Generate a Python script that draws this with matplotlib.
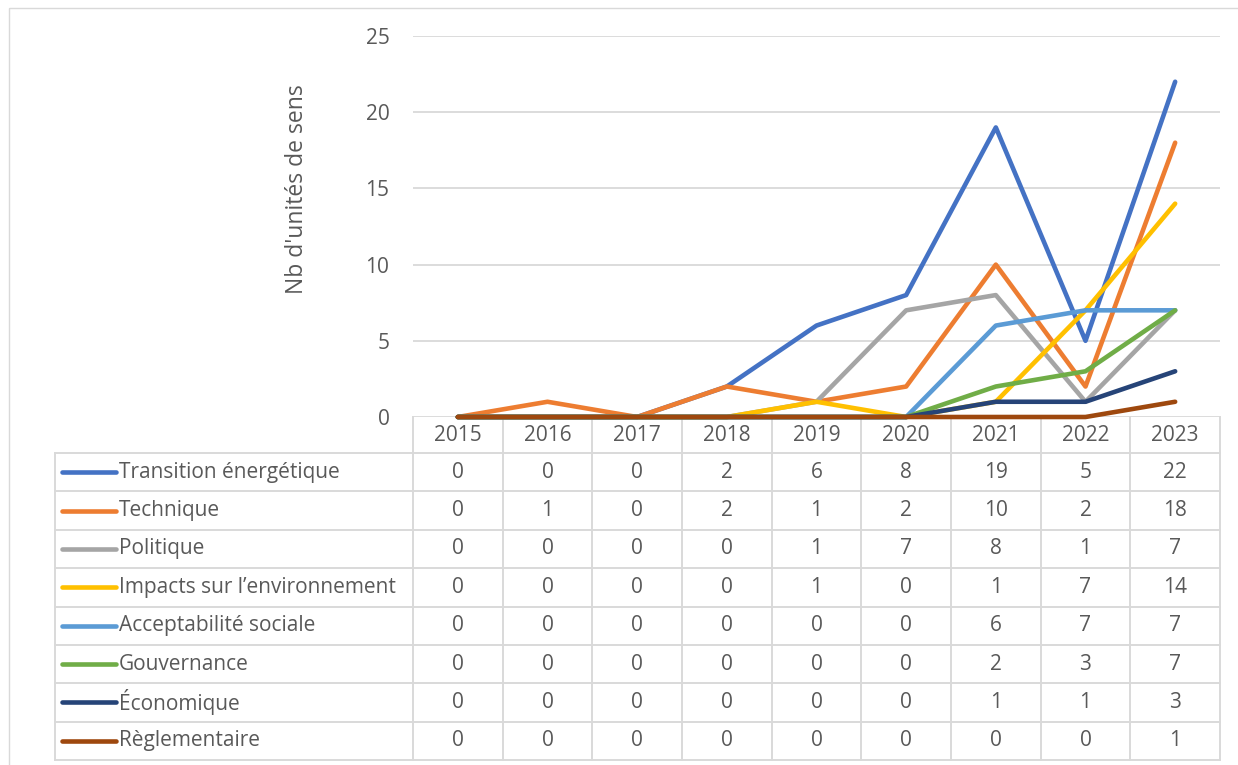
import matplotlib.pyplot as plt
from matplotlib.patches import Rectangle

years = ['2015', '2016', '2017', '2018', '2019', '2020', '2021', '2022', '2023']
series = ['Transition énergétique', 'Technique', 'Politique',
          'Impacts sur l\u2019environnement', 'Acceptabilité sociale',
          'Gouvernance', 'Économique', 'Règlementaire']
transition = [0, 0, 0, 2, 6, 8, 19, 5, 22]
technique = [0, 1, 0, 2, 1, 2, 10, 2, 18]
politique = [0, 0, 0, 0, 1, 7, 8, 1, 7]
impacts = [0, 0, 0, 0, 1, 0, 1, 7, 14]
acceptabilite = [0, 0, 0, 0, 0, 0, 6, 7, 7]
gouvernance = [0, 0, 0, 0, 0, 0, 2, 3, 7]
economique = [0, 0, 0, 0, 0, 0, 1, 1, 3]
reglementaire = [0, 0, 0, 0, 0, 0, 0, 0, 1]
values = [transition, technique, politique, impacts, acceptabilite,
          gouvernance, economique, reglementaire]
colors = ['#4472C4', '#ED7D31', '#A5A5A5', '#FFC000', '#5B9BD5',
          '#70AD47', '#264478', '#9E480E']

W, H = 1238, 765
GRID = '#D9D9D9'
TXT = '#595959'
FS = 15

plt.rcParams['font.family'] = ['Open Sans', 'DejaVu Sans']
fig = plt.figure(figsize=(W / 100, H / 100), dpi=100)

# background layer in pixel coords, used for the data table
bg = fig.add_axes([0, 0, 1, 1])
bg.set_xlim(0, W)
bg.set_ylim(H, 0)
bg.axis('off')
bg.add_patch(Rectangle((8.5, 7.5), 1240, 770, fill=False, edgecolor=GRID, lw=1))

left, right, top, base = 413, 1220, 36, 417
ax = fig.add_axes([left / W, 1 - base / H, (right - left) / W, (base - top) / H])
ax.patch.set_alpha(0)
x = list(range(len(years)))
for vals, c in zip(values, colors):
    ax.plot(x, vals, color=c, lw=3.3, solid_capstyle='round',
            solid_joinstyle='round', clip_on=False, zorder=3)
ax.set_xlim(-0.5, len(years) - 0.5)
ax.set_ylim(0, 25)
ax.set_yticks(range(0, 26, 5))
ax.yaxis.grid(True, color=GRID, lw=1.3)
ax.set_axisbelow(True)
ax.set_xticks([])
for s in ax.spines.values():
    s.set_visible(False)
ax.tick_params(axis='y', length=0, pad=17, labelsize=FS, labelcolor=TXT)
fig.text(297 / W, 1 - 189 / H, "Nb d'unités de sens", rotation=90,
         ha='center', va='center', fontsize=16.5, color=TXT)

# data table
cw = (right - left) / len(years)
head_top, head_bot, tab_bot = 417, 453, 760
rh = (tab_bot - head_bot) / len(series)
tab_left = 55
lw = 1.4
for k in range(len(years) + 1):
    bg.plot([left + k * cw] * 2, [head_top, tab_bot], color=GRID, lw=lw)
bg.plot([tab_left] * 2, [head_bot, tab_bot], color=GRID, lw=lw)
for i in range(len(series) + 1):
    bg.plot([tab_left, right], [head_bot + i * rh] * 2, color=GRID, lw=lw)
for k, yr in enumerate(years):
    bg.text(left + (k + 0.5) * cw, (head_top + head_bot) / 2, yr,
            ha='center', va='center', fontsize=FS, color=TXT)
for i, (name, vals, c) in enumerate(zip(series, values, colors)):
    yc = head_bot + (i + 0.5) * rh
    bg.plot([62, 116], [yc, yc], color=c, lw=3.3, solid_capstyle='round')
    bg.text(119, yc, name, ha='left', va='center', fontsize=FS, color=TXT)
    for k, v in enumerate(vals):
        bg.text(left + (k + 0.5) * cw, yc, str(v), ha='center', va='center',
                fontsize=FS, color=TXT)

fig.savefig('out.png', dpi=100)
